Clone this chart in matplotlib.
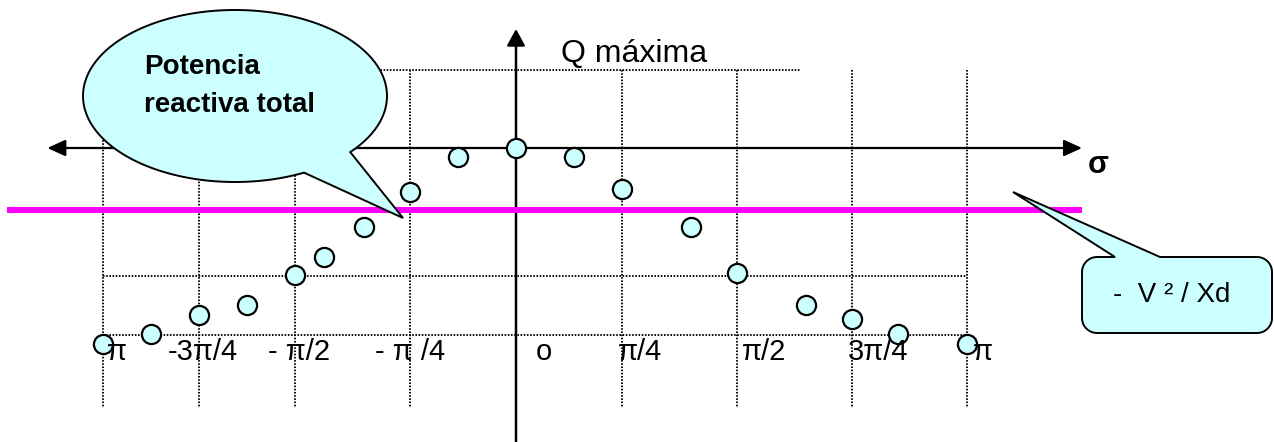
import numpy as np
import matplotlib.pyplot as plt
from matplotlib import transforms
from matplotlib.patches import FancyArrowPatch, Polygon

plt.rcParams["font.family"] = ["Liberation Sans", "DejaVu Sans"]

# ángulo de carga (rad) y potencia reactiva total Q
q4 = np.pi / 4
sigma = np.array([-4, -3.5, -3, -2.5, -2, -1.75, -1.4, -1, -0.55, 0,
                  0.55, 1, 1.6, 2, 2.6, 3, 3.4, 4]) * q4
q_total = np.array([-2.51, -2.38, -2.14, -2.01, -1.63, -1.40, -1.01, -0.56, -0.12, 0.0,
                    -0.12, -0.53, -1.01, -1.60, -2.01, -2.19, -2.38, -2.51])
q_max = 1.0
v2_xd = -0.79          # nivel -V²/Xd
q_grid = [-1.64, -2.40]
tick_sigma = np.arange(-4, 5) * q4
tick_labels = ["π", "-3π/4", "- π/2", "- π /4", "o", "π/4", "π/2", "3π/4", "π"]

W, H = 1274, 442
# el eje σ del dibujo no es uniforme: posición en px de cada paso de π/4
knot_px = np.array([103, 199, 295, 410, 516, 622, 737, 852, 967], float)
y0_px, y_unit = 148, 78


def _pw(x, xs, ys):
    x = np.asarray(x, float)
    out = np.interp(x, xs, ys)
    sl = (ys[1] - ys[0]) / (xs[1] - xs[0])
    sr = (ys[-1] - ys[-2]) / (xs[-1] - xs[-2])
    out = np.where(x < xs[0], ys[0] + (x - xs[0]) * sl, out)
    out = np.where(x > xs[-1], ys[-1] + (x - xs[-1]) * sr, out)
    return out


def fwd(x):
    return _pw(x, tick_sigma, knot_px)


def inv(p):
    return _pw(p, knot_px, tick_sigma)


fig = plt.figure(figsize=(W / 100, H / 100), dpi=100)
ax = fig.add_axes([0, 0, 1, 1])
ax.set_axis_off()
ax.set_xscale("function", functions=(fwd, inv))
ax.set_xlim(float(inv(0)), float(inv(W)))
ax.set_ylim((y0_px - H) / y_unit, y0_px / y_unit)

# coordenadas en píxeles (origen arriba a la izquierda) para los globos
tp = transforms.Affine2D().scale(1 / W, -1 / H).translate(0, 1) + fig.transFigure

# cuadrícula punteada
dot = dict(color="k", lw=1.35, ls=(0, (0.85, 0.85)), zorder=1)
y_bot = (y0_px - 408) / y_unit
for s in tick_sigma:
    if s != 0:
        ax.plot([s, s], [q_max, y_bot], **dot)
ax.plot([-4 * q4, 2.55 * q4], [q_max, q_max], **dot)
for g in q_grid:
    ax.plot([-4 * q4, 4 * q4], [g, g], **dot)

# ejes con flechas
ax.add_patch(FancyArrowPatch((-4.58 * q4, 0), (5.0 * q4, 0),
                             arrowstyle="<|-|>,head_length=11,head_width=5",
                             mutation_scale=1, lw=1.6, color="k",
                             shrinkA=0, shrinkB=0, zorder=2))
ax.add_patch(FancyArrowPatch((0, (y0_px - H) / y_unit), (0, (y0_px - 29) / y_unit),
                             arrowstyle="-|>,head_length=10,head_width=5.5",
                             mutation_scale=1, lw=1.8, color="k",
                             shrinkA=0, shrinkB=0, zorder=2))

# línea -V²/Xd
ax.plot([-5 * q4, 5 * q4], [v2_xd, v2_xd], color="#FF00FF", lw=4.3,
        solid_capstyle="butt", zorder=4)

# puntos de Q total
ax.plot(sigma, q_total, "o", ms=13.8, mfc="#CCFFFF", mec="k", mew=1.6, zorder=5)

# etiquetas del eje σ
label_dx = [4, -31, -27, -35, 20, -4, 5, -4, 6]
for s, lbl, dx in zip(tick_sigma, tick_labels, label_dx):
    ax.annotate(lbl, xy=(s, (y0_px - 360) / y_unit), xytext=(dx * 0.72, 0),
                textcoords="offset points", ha="left", va="baseline",
                fontsize=21, zorder=6)

fig.text(561, 62, "Q máxima", transform=tp, fontsize=23, ha="left", va="baseline")
fig.text(1088, 173, "σ", transform=tp, fontsize=22, fontweight="bold",
         ha="left", va="baseline")

# globo elíptico
cx, cy, a, b = 235, 96, 152, 86
t = np.linspace(np.radians(63), np.radians(40.7) + 2 * np.pi, 240)
pts = np.column_stack([cx + a * np.cos(t), cy + b * np.sin(t)])
pts = np.vstack([pts, [[403, 218]]])
fig.add_artist(Polygon(pts, closed=True, fc="#CCFFFF", ec="k", lw=1.4,
                       transform=tp, zorder=3))
fig.text(144, 74, "Potencia", transform=tp, fontsize=20, fontweight="bold",
         ha="left", va="baseline", zorder=6)
fig.text(144, 112, "reactiva total", transform=tp, fontsize=20, fontweight="bold",
         ha="left", va="baseline", zorder=6)


# globo rectangular redondeado
def arc(xc, yc, r, a0, a1, n=12):
    aa = np.radians(np.linspace(a0, a1, n))
    return np.column_stack([xc + r * np.cos(aa), yc + r * np.sin(aa)])


x0, x1, y0, y1, r = 1082, 1272, 257, 333, 15
box = np.vstack([
    [[x0 + r, y0], [1115, y0], [1013, 192], [1160, y0], [x1 - r, y0]],
    arc(x1 - r, y0 + r, r, 270, 360),
    arc(x1 - r, y1 - r, r, 0, 90),
    arc(x0 + r, y1 - r, r, 90, 180),
    arc(x0 + r, y0 + r, r, 180, 270),
])
fig.add_artist(Polygon(box, closed=True, fc="#CCFFFF", ec="k", lw=1.4,
                       transform=tp, zorder=3))
fig.text(1172, 302, "-  V ² / Xd", transform=tp, fontsize=20,
         ha="center", va="baseline", zorder=6)

fig.savefig("out.png", dpi=100, facecolor="white")
